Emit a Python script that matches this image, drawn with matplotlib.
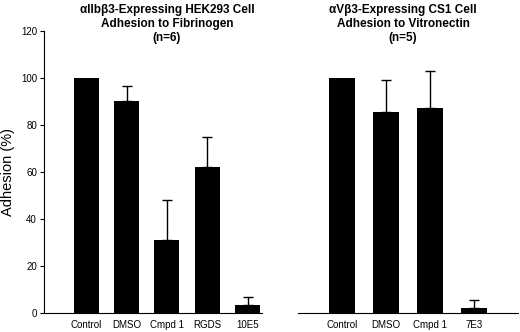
import numpy as np
import matplotlib
matplotlib.use("Agg")
import matplotlib.pyplot as plt

plt.rcParams['font.family'] = ['Liberation Sans', 'DejaVu Sans']

# left panel: aIIbb3 HEK293 cells on fibrinogen
left_labels = ["Control", "DMSO", "Cmpd 1", "RGDS", "10E5"]
left_vals = [100, 90.3, 31, 62, 3.3]
left_err = [0, 6.2, 17.2, 12.7, 3.3]

# right panel: aVb3 CS1 cells on vitronectin
right_labels = ["Control", "DMSO", "Cmpd 1", "7E3"]
right_vals = [100, 85.6, 87.4, 2.2]
right_err = [0, 13.7, 15.6, 3.3]


def draw_bars(ax, labels, vals, err, width):
    x = np.arange(len(labels))
    vals = np.array(vals)
    err = np.array(err)
    ax.bar(x, vals, width=width, color='black')
    m = err > 0  # control is normalised, no error bar
    ax.errorbar(x[m], vals[m], yerr=[np.zeros(m.sum()), err[m]], fmt='none',
                ecolor='black', elinewidth=1, capsize=3.5, capthick=1)
    ax.set_ylim(0, 120)
    ax.set_xticks(x)
    ax.set_xticklabels(labels, fontsize=7)
    ax.tick_params(axis='x', length=0, pad=5)


fig = plt.figure(figsize=(5.2, 3.32), dpi=100)
ax1 = fig.add_axes([44/520, 19/332, 218/520, 282/332])
ax2 = fig.add_axes([298/520, 19/332, 220/520, 282/332])

draw_bars(ax1, left_labels, left_vals, left_err, 0.62)
ax1.set_xlim(-1.04, 4.35)
ax1.set_yticks([0, 20, 40, 60, 80, 100, 120])
ax1.tick_params(axis='y', labelsize=7, length=3, width=0.8, pad=2)
ax1.spines['top'].set_visible(False)
ax1.spines['right'].set_visible(False)
ax1.set_ylabel("Adhesion (%)", fontsize=10.5, labelpad=4)

draw_bars(ax2, right_labels, right_vals, right_err, 0.6)
ax2.set_xlim(-1, 4)
ax2.set_yticks([])
for s in ['top', 'right', 'left']:
    ax2.spines[s].set_visible(False)

fig.text(167/520, 1 - 24/332,
         "\u03b1IIb\u03b23-Expressing HEK293 Cell\nAdhesion to Fibrinogen\n(n=6)",
         ha='center', va='center', fontsize=8.5, fontweight='bold', linespacing=1.25)
fig.text(403/520, 1 - 24/332,
         "\u03b1V\u03b23-Expressing CS1 Cell\nAdhesion to Vitronectin\n(n=5)",
         ha='center', va='center', fontsize=8.5, fontweight='bold', linespacing=1.25)

fig.savefig("out.png", dpi=100)
